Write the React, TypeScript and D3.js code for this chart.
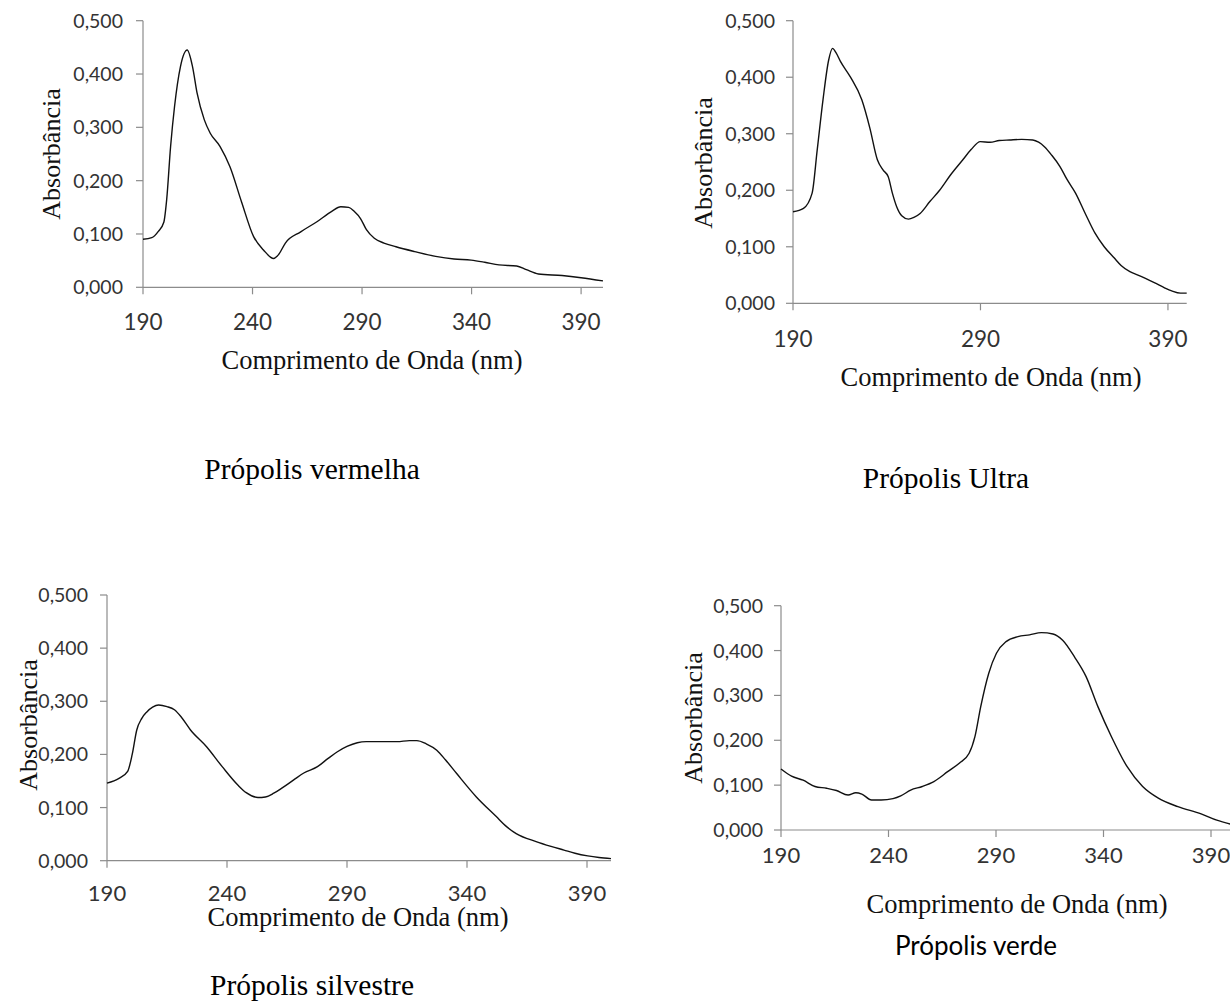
import React from "react";
import * as d3 from "d3";

// UV-vis spectra, wavelength (nm) / absorbance
const vermelhaWl = [190, 194, 197, 199.5, 200.8, 202.6, 204.4, 207.1, 210.2, 212.6, 214.7, 218, 220.7, 225.2, 229.7, 235, 240.5, 245, 249.6, 252, 255, 262, 269.4, 276, 280.3, 283.9, 286.5, 289.3, 292, 295.6, 300, 305.5, 314, 323.6, 332, 339.8, 346, 352.5, 360.6, 365, 370.5, 381.3, 390, 400];
const vermelhaAbs = [0.09, 0.093, 0.105, 0.122, 0.164, 0.264, 0.339, 0.414, 0.445, 0.414, 0.364, 0.314, 0.289, 0.264, 0.226, 0.16, 0.095, 0.07, 0.054, 0.062, 0.083, 0.104, 0.123, 0.142, 0.151, 0.15, 0.142, 0.129, 0.108, 0.092, 0.083, 0.076, 0.067, 0.058, 0.053, 0.051, 0.047, 0.042, 0.04, 0.033, 0.025, 0.022, 0.018, 0.012];

const ultraWl = [190, 195.6, 200.2, 202.9, 206, 209, 211.1, 213, 215.3, 220.5, 226.7, 231, 235, 238, 240.8, 243, 245.3, 248, 251.6, 254.5, 257.8, 263, 268.2, 274, 280.6, 285, 289.9, 295.1, 300, 305.5, 312, 317.9, 321, 324.1, 328, 332.4, 336, 340.7, 346, 351.1, 356, 361.4, 365, 369.7, 374, 378, 383, 388.4, 392, 396.7, 400];
const ultraAbs = [0.162, 0.168, 0.195, 0.271, 0.36, 0.43, 0.451, 0.443, 0.428, 0.401, 0.36, 0.31, 0.254, 0.236, 0.224, 0.195, 0.171, 0.155, 0.149, 0.152, 0.159, 0.18, 0.2, 0.227, 0.254, 0.272, 0.286, 0.285, 0.288, 0.289, 0.29, 0.289, 0.285, 0.277, 0.262, 0.242, 0.22, 0.195, 0.158, 0.124, 0.1, 0.08, 0.067, 0.056, 0.05, 0.044, 0.036, 0.027, 0.022, 0.018, 0.018];

const silvestreWl = [190, 195, 198.6, 200.5, 202.4, 204.5, 206.6, 209, 211.5, 215, 218.1, 221, 224.8, 231.4, 238, 244.6, 248, 252.9, 256, 259.5, 263, 267.8, 272, 277.7, 282, 286, 290, 294.3, 298, 302.6, 310.9, 316, 319.1, 323, 327.4, 331, 335.7, 343.9, 352.2, 356, 360.5, 368.8, 375, 380.4, 385, 390.3, 395, 400];
const silvestreAbs = [0.146, 0.155, 0.168, 0.2, 0.246, 0.268, 0.28, 0.289, 0.293, 0.29, 0.284, 0.27, 0.246, 0.215, 0.177, 0.142, 0.128, 0.119, 0.12, 0.127, 0.137, 0.152, 0.165, 0.177, 0.192, 0.205, 0.215, 0.222, 0.224, 0.224, 0.224, 0.226, 0.226, 0.22, 0.208, 0.19, 0.164, 0.12, 0.083, 0.066, 0.051, 0.036, 0.027, 0.02, 0.014, 0.009, 0.006, 0.004];

const verdeWl = [190, 194.9, 200.3, 205.8, 211.2, 215.8, 221.2, 224.8, 227.6, 232.1, 236.6, 242.1, 245.7, 250.3, 255.7, 261.1, 267.5, 272.9, 277.5, 280.2, 282.9, 286.6, 290.2, 294.7, 300.2, 305.6, 311.1, 316.5, 321, 326.5, 331.9, 337.4, 343.7, 351, 358.2, 365.5, 374.6, 385.4, 392.7, 400];
const verdeAbs = [0.136, 0.12, 0.111, 0.097, 0.093, 0.088, 0.078, 0.083, 0.08, 0.067, 0.067, 0.07, 0.076, 0.089, 0.097, 0.108, 0.13, 0.149, 0.171, 0.208, 0.275, 0.349, 0.394, 0.42, 0.431, 0.435, 0.44, 0.437, 0.423, 0.386, 0.342, 0.275, 0.208, 0.141, 0.097, 0.071, 0.052, 0.036, 0.022, 0.012];

const absTicks = [0, 0.1, 0.2, 0.3, 0.4, 0.5];
const wlTicks = [190, 240, 290, 340, 390];
const wlTicksUltra = [190, 290, 390];

const SERIF = "'Liberation Serif', 'DejaVu Serif', serif";
const SANS = "Lato, 'Open Sans', sans-serif";
const AXIS = "#8c8c8c";

const fmt = (v: number) => d3.format(".3f")(v).replace(".", ",");

const panels = [
  {
    wl: vermelhaWl, abs: vermelhaAbs, xTicks: wlTicks,
    xr: [143, 603], yr: [287.3, 20.7], tickBase: 330, tickSize: 22.5, yLabRight: 123,
    yTitle: [60, 154], xTitle: [372, 369],
    caption: "Própolis vermelha", cap: [312, 479], capFont: SERIF, capSize: 29.5,
  },
  {
    wl: ultraWl, abs: ultraAbs, xTicks: wlTicksUltra,
    xr: [793, 1186.7], yr: [303.3, 20.7], tickBase: 347, tickSize: 22.5, yLabRight: 775,
    yTitle: [712, 163], xTitle: [991, 386],
    caption: "Própolis Ultra", cap: [946, 488], capFont: SERIF, capSize: 29.5,
  },
  {
    wl: silvestreWl, abs: silvestreAbs, xTicks: wlTicks,
    xr: [107, 611], yr: [860.7, 595], tickBase: 901, tickSize: 22, yLabRight: 88,
    yTitle: [37, 725], xTitle: [358, 926],
    caption: "Própolis silvestre", cap: [312, 995], capFont: SERIF, capSize: 29.5,
  },
  {
    wl: verdeWl, abs: verdeAbs, xTicks: wlTicks,
    xr: [781, 1232.5], yr: [830, 605.7], tickBase: 863, tickSize: 22, yLabRight: 763,
    yTitle: [702, 718], xTitle: [1017, 913],
    caption: "Própolis verde", cap: [976, 955], capFont: SANS, capSize: 26,
  },
];

function Panel({ p }: { p: any }) {
  const x = d3.scaleLinear().domain([190, 400]).range(p.xr);
  const y = d3.scaleLinear().domain([0, 0.5]).range(p.yr);
  const line = d3
    .line<number>()
    .x((d, i) => x(p.wl[i]))
    .y((d) => y(d))
    .curve(d3.curveMonotoneX);
  const x0 = x(190);
  const y0 = y(0);

  return (
    <g>
      {/* axes */}
      <line x1={x0} x2={Math.min(x(400), 1230)} y1={y0} y2={y0} stroke={AXIS} strokeWidth={1.2} />
      <line x1={x0} x2={x0} y1={y0} y2={y(0.5)} stroke={AXIS} strokeWidth={1.2} />
      {absTicks.map((t) => (
        <g key={"y" + t}>
          <line x1={x0 - 7} x2={x0} y1={y(t)} y2={y(t)} stroke={AXIS} strokeWidth={1.2} />
          <text
            x={p.yLabRight}
            y={y(t)}
            dy="0.36em"
            textAnchor="end"
            fontFamily={SANS}
            fontSize={19.5}
            fill="#333"
          >
            {fmt(t)}
          </text>
        </g>
      ))}
      {p.xTicks.map((t: number) => (
        <g key={"x" + t}>
          <line x1={x(t)} x2={x(t)} y1={y0} y2={y0 + 7} stroke={AXIS} strokeWidth={1.2} />
          <text
            x={x(t)}
            y={p.tickBase}
            textAnchor="middle"
            fontFamily={SANS}
            fontSize={p.tickSize}
            fill="#333"
          >
            {t}
          </text>
        </g>
      ))}
      <path d={line(p.abs) || ""} fill="none" stroke="#111" strokeWidth={1.4} />
      <text
        transform={`translate(${p.yTitle[0]},${p.yTitle[1]}) rotate(-90)`}
        textAnchor="middle"
        fontFamily={SERIF}
        fontSize={26}
        fill="#111"
      >
        Absorbância
      </text>
      <text
        x={p.xTitle[0]}
        y={p.xTitle[1]}
        textAnchor="middle"
        fontFamily={SERIF}
        fontSize={26.5}
        fill="#111"
      >
        Comprimento de Onda (nm)
      </text>
      <text
        x={p.cap[0]}
        y={p.cap[1]}
        textAnchor="middle"
        fontFamily={p.capFont}
        fontSize={p.capSize}
        fill="#000"
      >
        {p.caption}
      </text>
    </g>
  );
}

export default function App() {
  return (
    <svg
      width={1230}
      height={1002}
      style={{ position: "absolute", left: 0, top: 0, background: "#fff" }}
    >
      {panels.map((p, i) => (
        <Panel key={i} p={p} />
      ))}
    </svg>
  );
}
